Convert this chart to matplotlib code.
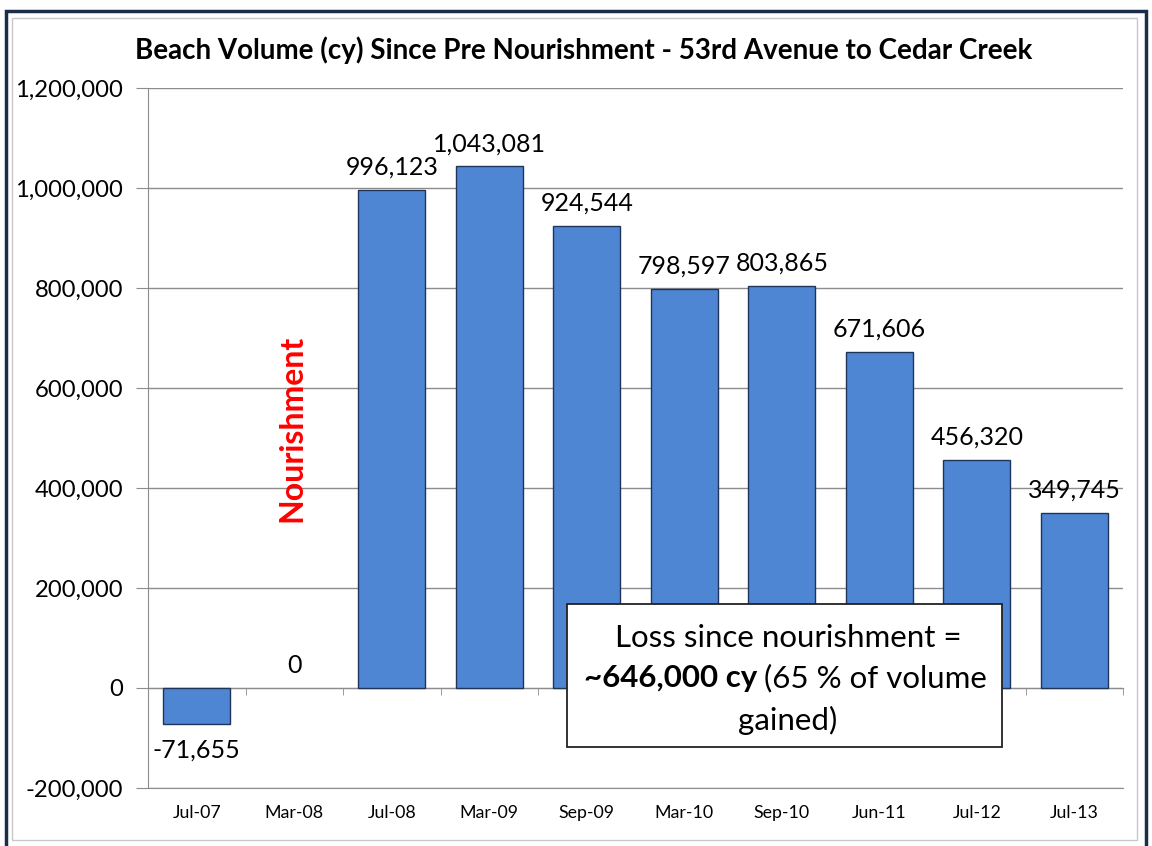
# -*- coding: utf-8 -*-
"""
Beach volume since pre-nourishment, 53rd Avenue to Cedar Creek.
"""
import matplotlib
matplotlib.use("Agg")
import matplotlib.pyplot as plt
from matplotlib.patches import Rectangle
from matplotlib.ticker import FuncFormatter, FixedLocator

plt.rcParams["font.family"] = ["Lato", "DejaVu Sans"]

surveys = ["Jul-07", "Mar-08", "Jul-08", "Mar-09", "Sep-09",
           "Mar-10", "Sep-10", "Jun-11", "Jul-12", "Jul-13"]
volumes = [-71655, 0, 996123, 1043081, 924544,
           798597, 803865, 671606, 456320, 349745]
y_ticks = [-200000, 0, 200000, 400000, 600000, 800000, 1000000, 1200000]

BAR_FACE = "#4f86d4"
BAR_EDGE = "#1f3458"
GRID = "#8c8c8c"

fig = plt.figure(figsize=(11.52, 8.46), dpi=100)
ax = fig.add_axes([0.1285, 0.0686, 0.8464, 0.8274])

x = list(range(len(surveys)))
edge_w = [1.0 if v != 0 else 0 for v in volumes]
ax.bar(x, volumes, width=0.69, color=BAR_FACE, edgecolor=BAR_EDGE,
       linewidth=edge_w, zorder=3)

ax.set_xlim(-0.5, len(surveys) - 0.5)
ax.set_ylim(-200000, 1200000)
ax.set_yticks(y_ticks)
ax.yaxis.set_major_formatter(FuncFormatter(lambda v, p: f"{int(v):,}"))
ax.tick_params(axis="y", labelsize=17.2, length=9, color=GRID, pad=9)
ax.grid(axis="y", color=GRID, linewidth=1.0, zorder=0)
ax.set_axisbelow(True)

# category axis sits on zero, labels sit low (Excel style)
ax.spines["bottom"].set_position(("data", 0))
ax.spines["bottom"].set_color(GRID)
ax.spines["left"].set_color(GRID)
ax.spines["top"].set_visible(False)
ax.spines["right"].set_visible(False)
ax.set_xticks([])
ax.xaxis.set_minor_locator(FixedLocator([i + 0.5 for i in x[:-1]] + [len(x) - 0.5]))
ax.tick_params(axis="x", which="minor", length=5, color=GRID, direction="out")

sec = ax.secondary_xaxis(0)
sec.set_xticks(x)
sec.set_xticklabels(surveys)
sec.tick_params(axis="x", length=0, labelsize=12.8, pad=12)
sec.spines["bottom"].set_color(GRID)

for xi, v in zip(x, volumes):
    if v < 0:
        ax.annotate(f"{v:,}", (xi, v), xytext=(0, -11), textcoords="offset points",
                    ha="center", va="top", fontsize=18)
    else:
        ax.annotate(f"{v:,}", (xi, v), xytext=(0, 8), textcoords="offset points",
                    ha="center", va="bottom", fontsize=18)

ax.text(0.98, 520000, "Nourishment", rotation=90, color="#ff0000",
        fontsize=23, fontweight="bold", ha="center", va="center")

fig.text(0.5065, 0.941, "Beach Volume (cy) Since Pre Nourishment - 53rd Avenue to Cedar Creek",
         ha="center", va="center", fontsize=20, fontweight="bold")

# loss callout box
fig.patches.append(Rectangle((567 / 1152, 1 - 747 / 846), 435 / 1152, 143 / 846,
                             transform=fig.transFigure, facecolor="white",
                             edgecolor="#222222", linewidth=1.3, zorder=5))
fs = 22.5
fig.text(788 / 1152, 1 - 638 / 846, "Loss since nourishment =", ha="center",
         va="center", fontsize=fs, zorder=6)
fig.text(757 / 1152, 1 - 678 / 846, "~646,000 cy", ha="right", va="center",
         fontsize=fs, fontweight="bold", zorder=6)
fig.text(764 / 1152, 1 - 678 / 846, "(65 % of volume", ha="left", va="center",
         fontsize=fs, zorder=6)
fig.text(788 / 1152, 1 - 720 / 846, "gained)", ha="center", va="center",
         fontsize=fs, zorder=6)

# outer frame
fig.patches.append(Rectangle((6 / 1152, -0.01), 1140 / 1152, 1 - 11 / 846 + 0.01,
                             transform=fig.transFigure, fill=False,
                             edgecolor="#1c2d4a", linewidth=2.5))
fig.patches.append(Rectangle((12 / 1152, 1 - 840 / 846), 1125 / 1152, 822 / 846,
                             transform=fig.transFigure, fill=False,
                             edgecolor="#c8c8c8", linewidth=1.0))

fig.savefig("out.png", dpi=100)
